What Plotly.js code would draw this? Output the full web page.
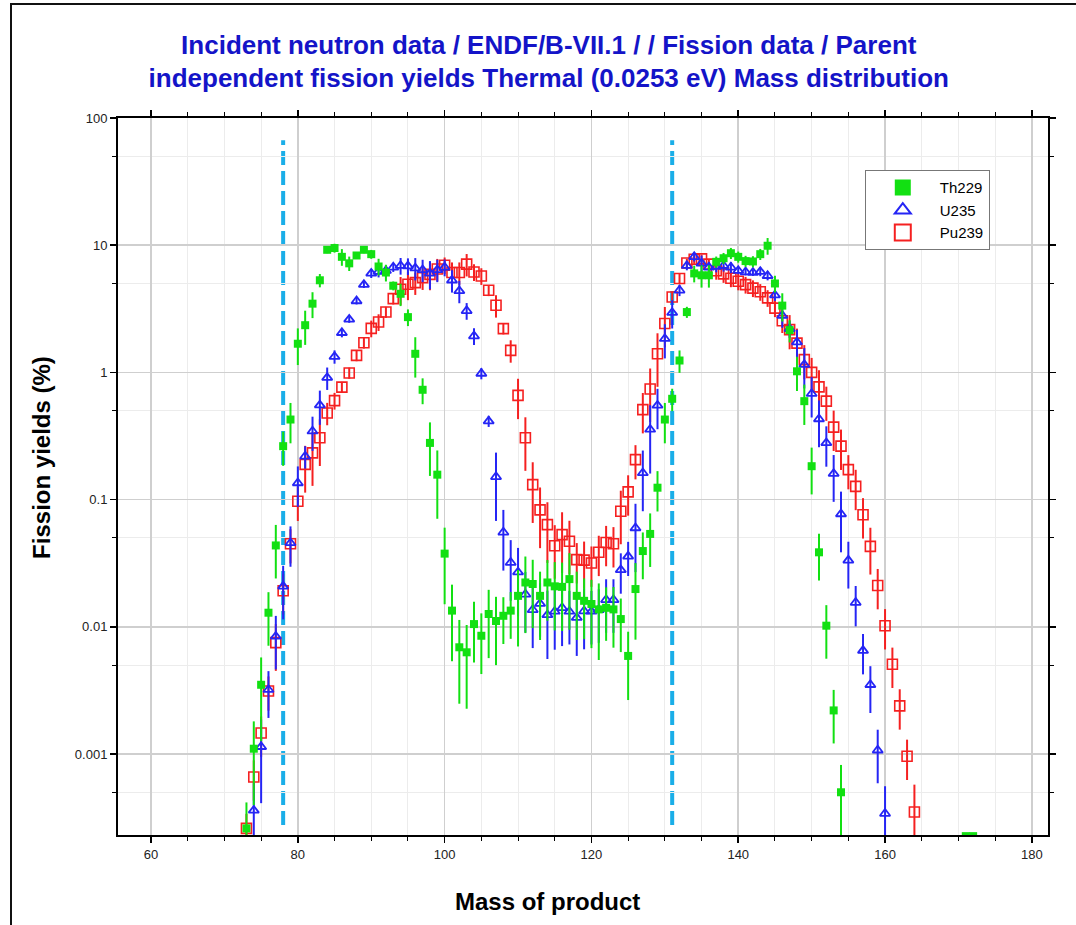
<!DOCTYPE html>
<html>
<head>
<meta charset="utf-8">
<script src="https://cdn.plot.ly/plotly-3.0.1.min.js"></script>
<style>
  html, body { margin:0; padding:0; background:#fff; }
  #wrap { position:relative; width:1076px; height:925px; overflow:hidden; }
  #frame { position:absolute; left:10px; top:3px; width:1200px; height:1000px; border-left:2px solid #111; border-top:2px solid #111; }
  #plot { position:absolute; left:0; top:0; width:1076px; height:925px; }
</style>
</head>
<body>
<div id="wrap"><div id="frame"></div><div id="plot"></div></div>
<script>
// ---- Data ----
const markLines = [78, 131];

const thMass = [73,74,75,76,77,78,79,80,81,82,83,84,85,86,87,88,89,90,91,92,93,94,95,96,97,98,99,100,
  101,102,103,104,105,106,107,108,109,110,111,112,113,114,115,116,117,118,119,120,121,122,123,124,125,
  126,127,128,129,130,131,132,133,134,135,136,137,138,139,140,141,142,143,144,145,146,147,148,149,150,
  151,152,153,154,171,172];
const thYield = [0.00026,0.0011,0.0035,0.0129,0.0436,0.263,0.426,1.68,2.35,3.47,5.3,9.2,9.5,8.1,7.2,8.3,9.2,8.5,
  6.8,6.1,4.8,4.15,2.72,1.40,0.73,0.279,0.157,0.0376,
  0.0134,0.0069,0.0063,0.0105,0.0085,0.0126,0.0111,0.0122,0.0134,0.0175,0.0223,0.0217,0.0175,0.0223,0.0208,
  0.0206,0.0237,0.0175,0.016,0.0151,0.0137,0.0141,0.0137,0.0115,0.0059,
  0.0198,0.0394,0.0537,0.124,0.426,0.62,1.24,2.98,6.0,5.8,5.8,7.4,7.9,8.65,8.1,7.5,7.45,8.5,9.9,5.0,3.35,
  2.15,1.02,0.594,0.183,0.0385,0.0102,0.0022,0.0005,0.000226,0.000226];
const thRelErr = [0.6,0.64,0.64,0.45,0.45,0.3,0.35,0.32,0.3,0.23,0.12,0.06,0.08,0.15,0.13,0.06,0.06,0.08,
  0.15,0.15,0.08,0.2,0.15,0.35,0.23,0.45,0.55,0.6,
  0.6,0.64,0.64,0.5,0.5,0.55,0.55,0.4,0.4,0.6,0.6,0.55,0.55,0.5,0.55,0.55,0.6,0.55,0.5,0.55,0.6,0.45,0.5,
  0.45,0.55,0.6,0.4,0.45,0.35,0.35,0.2,0.2,0.1,0.15,0.2,0.2,0.1,0.1,0.1,0.1,0.1,0.1,0.1,0.15,0.15,0.25,
  0.2,0.3,0.35,0.4,0.4,0.45,0.45,0.64,0.02,0.02];

const uMass = [74,75,76,77,78,79,80,81,82,83,84,85,86,87,88,89,90,91,92,93,94,95,96,97,98,99,100,
  101,102,103,104,105,106,107,108,109,110,111,112,113,114,115,116,117,118,119,120,121,122,123,124,125,
  126,127,128,129,130,131,132,133,134,135,136,137,138,139,140,141,142,143,144,145,146,147,148,149,150,
  151,152,153,154,155,156,157,158,159,160];
const uYield = [0.00036,0.00114,0.0032,0.0084,0.0208,0.0456,0.135,0.219,0.345,0.553,0.91,1.33,2.05,2.61,3.64,
  4.9,6.0,6.2,6.3,6.7,6.9,6.85,6.6,6.4,6.0,6.4,6.7,
  5.3,4.37,3.05,1.93,0.98,0.414,0.151,0.0553,0.032,0.0269,0.018,0.0136,0.0152,0.0124,0.0132,0.0141,0.0132,
  0.0118,0.0133,0.0132,0.0136,0.0163,0.0163,0.028,0.0358,
  0.0598,0.162,0.356,0.55,1.84,2.95,4.42,6.9,8.1,7.2,6.7,6.8,6.9,6.7,6.3,6.15,6.1,6.2,5.75,4.05,2.8,2.2,
  1.73,1.15,0.68,0.43,0.279,0.16,0.077,0.0333,0.0155,0.0065,0.0035,0.00107,0.00034];
const uRelErr = [0.64,0.64,0.4,0.45,0.45,0.35,0.35,0.2,0.3,0.3,0.2,0.12,0.08,0.06,0.06,0.06,0.08,0.1,0.1,
  0.08,0.15,0.15,0.2,0.2,0.25,0.2,0.15,
  0.2,0.2,0.15,0.15,0.1,0.1,0.55,0.5,0.5,0.55,0.5,0.5,0.45,0.55,0.5,0.5,0.45,0.5,0.5,0.45,0.45,0.45,0.45,
  0.35,0.3,0.55,0.5,0.55,0.35,0.3,0.25,0.1,0.08,0.08,0.15,0.1,0.1,0.1,0.1,0.06,0.06,0.06,0.08,0.08,0.1,
  0.2,0.15,0.25,0.35,0.35,0.4,0.35,0.4,0.5,0.4,0.35,0.35,0.4,0.45,0.64];

const puMass = [73,74,75,76,77,78,79,80,81,82,83,84,85,86,87,88,89,90,91,92,93,94,95,96,97,98,99,100,
  101,102,103,104,105,106,107,108,109,110,111,112,113,114,115,116,117,118,119,120,121,122,123,124,125,
  126,127,128,129,130,131,132,133,134,135,136,137,138,139,140,141,142,143,144,145,146,147,148,149,150,
  151,152,153,154,155,156,157,158,159,160,161,162,163,164];
const puYield = [0.00026,0.00066,0.00146,0.00313,0.0075,0.0192,0.045,0.097,0.189,0.233,0.306,0.48,0.60,0.766,
  0.99,1.36,1.71,2.22,2.49,2.98,3.8,4.5,4.93,5.08,5.56,5.9,6.5,6.96,
  6.1,6.1,7.1,6.15,5.73,4.42,3.37,2.21,1.49,0.66,0.306,0.131,0.083,0.0635,0.0434,0.053,0.047,0.0337,0.0334,
  0.0317,0.0385,0.046,0.045,0.081,0.115,
  0.206,0.51,0.74,1.40,2.42,3.92,5.47,7.25,7.75,7.8,7.1,6.3,5.95,5.5,5.2,4.9,4.6,4.3,3.85,3.2,2.55,2.17,
  1.7,1.26,1.0,0.77,0.594,0.371,0.263,0.172,0.127,0.076,0.0429,0.0211,0.0102,0.00508,0.00239,0.00096,0.00035];
const puRelErr = [0.3,0.35,0.35,0.3,0.4,0.35,0.3,0.3,0.4,0.45,0.4,0.2,0.15,0.1,0.1,0.1,0.1,0.15,0.15,0.1,
  0.1,0.25,0.25,0.2,0.2,0.25,0.2,0.15,
  0.2,0.2,0.2,0.15,0.15,0.1,0.2,0.1,0.2,0.35,0.45,0.5,0.5,0.5,0.45,0.5,0.45,0.35,0.4,0.35,0.35,0.35,0.35,
  0.45,0.35,0.3,0.35,0.45,0.45,0.35,0.1,0.1,0.08,0.08,0.08,0.08,0.15,0.15,0.15,0.15,0.15,0.15,0.15,0.15,
  0.15,0.2,0.3,0.3,0.3,0.3,0.35,0.3,0.35,0.35,0.3,0.35,0.35,0.4,0.35,0.35,0.35,0.35,0.35,0.64];

const seriesNames = ['Th229', 'U235', 'Pu239'];
const xTickVals = [60, 80, 100, 120, 140, 160, 180];
const yTickVals = [0.001, 0.01, 0.1, 1, 10, 100];
const yTickText = ['0.001', '0.01', '0.1', '1', '10', '100'];
const yMinorVals = [0.0005, 0.005, 0.05, 0.5, 5, 50];
const titleText = 'Incident neutron data / ENDF/B-VII.1 / / Fission data / Parent<br>independent fission yields Thermal (0.0253 eV) Mass distribution';
const xTitle = 'Mass of product';
const yTitle = 'Fission yields (%)';

// ---- Styles ----
const GREEN = '#12e012', BLUE = '#2525f5', RED = '#f52020';
const FONT = 'Liberation Sans, Arial, Helvetica, sans-serif';

function errs(vals, rel) { return vals.map((v, i) => v * rel[i]); }

function dataTrace(x, y, rel, color, marker) {
  return {
    type: 'scatter', mode: 'markers', x: x, y: y, showlegend: false, hoverinfo: 'x+y',
    marker: marker,
    error_y: { type: 'data', array: errs(y, rel), color: color, thickness: 2, width: 0 }
  };
}

const traces = [
  { type:'scatter', mode:'markers', x:[null], y:[null], name: seriesNames[0],
    marker:{ symbol:'square', size:16, color:GREEN } },
  { type:'scatter', mode:'markers', x:[null], y:[null], name: seriesNames[1],
    marker:{ symbol:'triangle-up-open', size:14, color:BLUE, line:{ color:BLUE, width:2 } } },
  { type:'scatter', mode:'markers', x:[null], y:[null], name: seriesNames[2],
    marker:{ symbol:'square-open', size:16, color:RED, line:{ color:RED, width:2 } } },
  dataTrace(puMass, puYield, puRelErr, RED,
    { symbol:'square-open', size:10, color:RED, line:{ color:RED, width:1.6 } }),
  dataTrace(uMass, uYield, uRelErr, BLUE,
    { symbol:'triangle-up-open', size:9, color:BLUE, line:{ color:BLUE, width:1.8 } }),
  dataTrace(thMass, thYield, thRelErr, GREEN,
    { symbol:'square', size:8, color:GREEN })
];

const shapes = markLines.map(m => ({
  type:'line', xref:'x', yref:'paper', x0:m, x1:m, y0:0.014, y1:0.969, layer:'below',
  line:{ color:'#1aaee8', width:4, dash:'14px,6px' }
}));

const layout = {
  width:1076, height:925, autosize:false,
  margin:{ l:118, r:28, t:118, b:90 },
  paper_bgcolor:'rgba(0,0,0,0)', plot_bgcolor:'#ffffff',
  font:{ family:FONT, color:'#000' },
  title:{
    text:'<b>' + titleText + '</b>',
    font:{ family:FONT, size:26, color:'#1414c8' },
    x:0.51, xanchor:'center', xref:'container', y:0.942, yanchor:'middle', yref:'container'
  },
  xaxis:{
    range:[55.5, 182.2], tickmode:'array', tickvals:xTickVals,
    ticks:'outside', ticklen:6, tickwidth:1.5, tickcolor:'#000',
    showline:true, linecolor:'#000', linewidth:2, mirror:'ticks',
    showgrid:true, gridcolor:'#cfcfcf', gridwidth:1.5, zeroline:false,
    tickfont:{ family:FONT, size:13, color:'#222' },
    minor:{ dtick:5, tick0:0, ticks:'outside', ticklen:4, tickwidth:1, tickcolor:'#000',
            showgrid:true, gridcolor:'#ececec', gridwidth:1 }
  },
  yaxis:{
    type:'log', range:[-3.637, 2], tickmode:'array', tickvals:yTickVals, ticktext:yTickText,
    ticks:'outside', ticklen:6, tickwidth:1.5, tickcolor:'#000',
    showline:true, linecolor:'#000', linewidth:2, mirror:'ticks',
    showgrid:true, gridcolor:'#cfcfcf', gridwidth:1.5, zeroline:false,
    tickfont:{ family:FONT, size:13, color:'#222' },
    minor:{ tickmode:'array', tickvals:yMinorVals, ticks:'outside', ticklen:4, tickwidth:1, tickcolor:'#000',
            showgrid:true, gridcolor:'#ececec', gridwidth:1 }
  },
  annotations:[
    { text:'<b>' + xTitle + '</b>', xref:'paper', yref:'paper', x:0.462, y:-0.0934,
      xanchor:'center', yanchor:'middle', showarrow:false,
      font:{ family:FONT, size:24, color:'#000' } },
    { text:'<b>' + yTitle + '</b>', xref:'paper', yref:'paper', x:-0.0817, y:0.526,
      xanchor:'center', yanchor:'middle', showarrow:false, textangle:-90,
      font:{ family:FONT, size:24, color:'#000' } }
  ],
  legend:{
    x:0.803, y:0.927, xanchor:'left', yanchor:'top',
    bgcolor:'#ffffff', bordercolor:'#777', borderwidth:1,
    font:{ family:FONT, size:15, color:'#000' }, itemwidth:64
  },
  shapes:shapes
};

Plotly.newPlot('plot', traces, layout, { displayModeBar:false, staticPlot:true });
</script>
</body>
</html>
